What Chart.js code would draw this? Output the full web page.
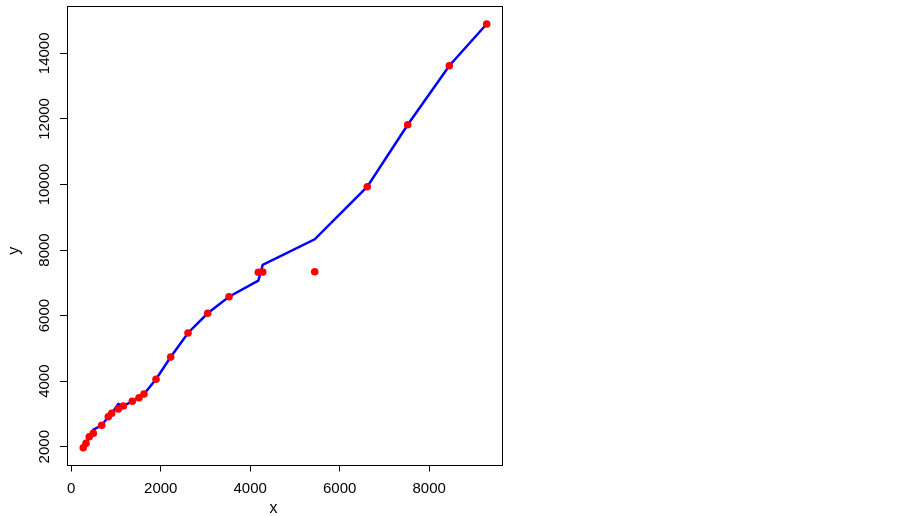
<!DOCTYPE html>
<html>
<head>
<meta charset="utf-8">
<script src="https://cdn.jsdelivr.net/npm/chart.js@4/dist/chart.umd.min.js"></script>
<style>
  html, body { margin: 0; padding: 0; background: #fff; }
  #wrap { width: 903px; height: 516px; }
</style>
</head>
<body>
<div id="wrap"><canvas id="myChart" width="903" height="516"></canvas></div>
<script>
// Dane
var xVals = [268, 329, 402, 492, 680, 827, 903, 1051, 1163, 1364, 1514, 1625,
  1894, 2222, 2609, 3049, 3526, 4181, 4279, 5442, 6617, 7521, 8451, 9287];
var yVals = [1970, 2104, 2305, 2409, 2653, 2915, 3019, 3150, 3242, 3385, 3495, 3608,
  4056, 4736, 5469, 6070, 6576, 7320, 7330, 7339, 9932, 11823, 13623, 14895];
// Wartości dopasowane (niebieska linia)
var fitVals = [1970, 2104, 2305, 2520, 2653, 2915, 3019, 3300, 3242, 3385, 3495, 3608,
  4056, 4736, 5469, 6070, 6576, 7064, 7543, 8327, 9932, 11823, 13623, 14895];
var xTicks = [0, 2000, 4000, 6000, 8000];
var yTicks = [2000, 4000, 6000, 8000, 10000, 12000, 14000];

var FONT = "'Liberation Sans', Arial, sans-serif";

var pointData = xVals.map(function (x, i) { return { x: x, y: yVals[i] }; });
var lineData = xVals.map(function (x, i) { return { x: x, y: fitVals[i] }; });

// Ramka wokół obszaru wykresu (jak box() w R)
var boxPlugin = {
  id: "box",
  afterDatasetsDraw: function (chart) {
    var a = chart.chartArea;
    var ctx = chart.ctx;
    ctx.save();
    ctx.strokeStyle = "#000";
    ctx.lineWidth = 1;
    ctx.strokeRect(Math.round(a.left) + 0.5, Math.round(a.top) + 0.5,
      Math.round(a.right - a.left), Math.round(a.bottom - a.top));
    ctx.restore();
  }
};

// Zerowanie dodatkowych marginesów, żeby obszar wykresu był dokładnie tam gdzie w R
function noPad(scale) {
  scale.paddingTop = 0;
  scale.paddingBottom = 0;
  scale.paddingLeft = 0;
  scale.paddingRight = 0;
}

var ctx = document.getElementById("myChart").getContext("2d");
var myChart = new Chart(ctx, {
  type: "scatter",
  data: {
    datasets: [
      {
        label: "punkty",
        data: pointData,
        backgroundColor: "#FF0000",
        borderColor: "#FF0000",
        pointRadius: 3.8,
        borderWidth: 0,
        order: 0,
      },
      {
        label: "dopasowanie",
        data: lineData,
        showLine: true,
        borderColor: "#0000FF",
        borderWidth: 2.5,
        pointRadius: 0,
        fill: false,
        order: 1,
      },
    ],
  },
  options: {
    responsive: false,
    animation: false,
    layout: { padding: { left: 0, right: 401, top: 6, bottom: 0 } },
    plugins: {
      legend: { display: false },
      tooltip: { enabled: false },
    },
    scales: {
      x: {
        type: "linear",
        min: -96,
        max: 9629,
        afterBuildTicks: function (scale) {
          scale.ticks = xTicks.map(function (v) { return { value: v }; });
        },
        afterFit: function (scale) { scale.height = 51.5; noPad(scale); },
        border: { display: false },
        grid: {
          drawOnChartArea: false,
          drawTicks: true,
          tickLength: 7,
          color: "#000",
        },
        ticks: {
          color: "#000",
          font: { family: FONT, size: 15 },
          padding: 8,
          maxRotation: 0,
          callback: function (v) { return String(v); },
        },
        title: {
          display: true,
          // spacje przesuwają literę "x" trochę w lewo, jak w oryginale
          text: "x\u00a0\u00a0\u00a0\u00a0\u00a0",
          color: "#000",
          font: { family: FONT, size: 16 },
          padding: { top: 0, bottom: -2 },
        },
      },
      y: {
        type: "linear",
        min: 1457,
        max: 15444,
        afterBuildTicks: function (scale) {
          scale.ticks = yTicks.map(function (v) { return { value: v }; });
        },
        afterFit: function (scale) { scale.width = 67; noPad(scale); },
        border: { display: false },
        grid: {
          drawOnChartArea: false,
          drawTicks: true,
          tickLength: 7,
          color: "#000",
        },
        ticks: {
          color: "#000",
          font: { family: FONT, size: 15 },
          padding: -6,
          crossAlign: "center",
          minRotation: 90,
          maxRotation: 90,
          callback: function (v) { return String(v); },
        },
        title: {
          display: true,
          // spacje przesuwają literę "y" trochę w dół, jak w oryginale
          text: "y\u00a0\u00a0\u00a0\u00a0\u00a0\u00a0\u00a0",
          color: "#000",
          font: { family: FONT, size: 16 },
          padding: { top: 5, bottom: 0 },
        },
      },
    },
  },
  plugins: [boxPlugin],
});
</script>
</body>
</html>
